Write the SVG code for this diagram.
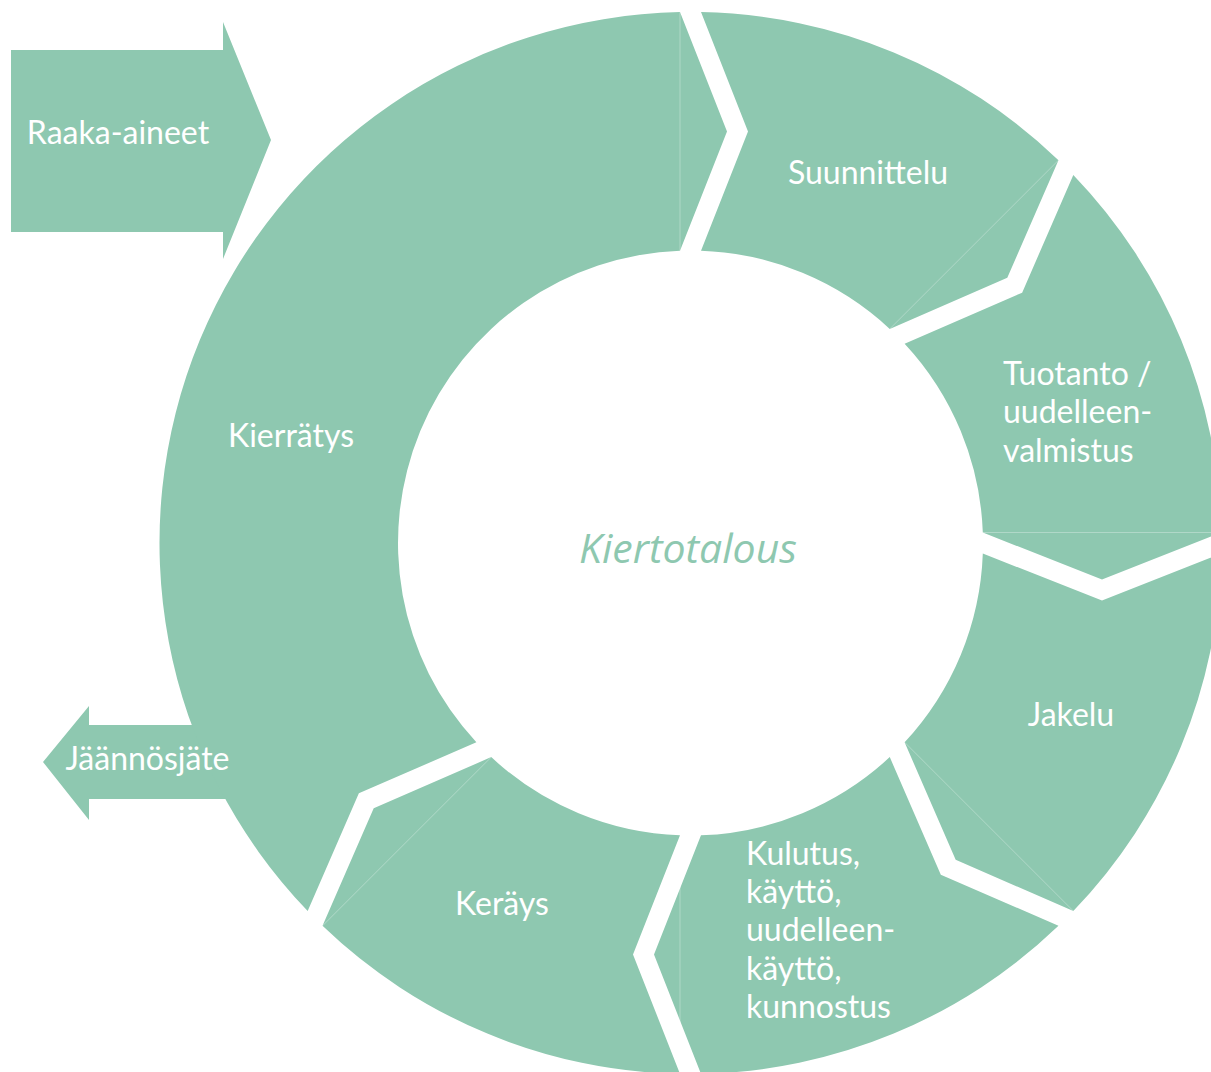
<svg xmlns="http://www.w3.org/2000/svg" width="1211" height="1072" viewBox="0 0 1211 1072">
  <style>
    .seg { fill: #8ec8b0; stroke: none; }
    .seam { stroke: #ffffff; stroke-opacity: 0.3; stroke-width: 1; fill: none; }
    .lbl { font-family: Lato, "Open Sans", "Liberation Sans", sans-serif; font-size: 32px; fill: #ffffff; }
    .mid { text-anchor: middle; }
    .center { font-family: "Open Sans", Lato, "Liberation Sans", sans-serif; font-size: 41px; font-style: italic; fill: #8ec8b0; text-anchor: middle; }
  </style>
  <rect x="0" y="0" width="1211" height="1072" fill="#ffffff"/>

  <g id="node-raaka-aineet">
    <polygon class="seg" points="11,50 223,50 223,22 271,140 223,259 223,232 11,232"/>
    <text class="lbl mid" x="118" y="144">Raaka-aineet</text>
  </g>

  <g id="node-jaannosjate">
    <polygon class="seg" points="43,762 89,706 89,725 250,725 250,799 89,799 89,820"/>
  </g>

  <g id="node-kierratys">
    <path class="seg" d="M 307.68,910.98 A 531 531 0 0 1 680,12.1 L 727,131.5 L 680,250.69 A 292.5 292.5 0 0 0 476.39,742.27 L 358.86,793.32 Z"/>
    <line class="seam" x1="680" y1="12.1" x2="680" y2="250.69"/>
    <text class="lbl mid" x="291" y="447">Kierrätys</text>
  </g>

  <g id="node-jaannosjate-label">
    <text class="lbl mid" x="147.5" y="770">Jäännösjäte</text>
  </g>

  <g id="node-suunnittelu">
    <path class="seg" d="M 701,12.1 A 531 531 0 0 1 1058.48,160.18 L 1007.29,277.83 L 889.77,328.89 A 292.5 292.5 0 0 0 701,250.69 L 748,131.5 Z"/>
    <line class="seam" x1="1058.48" y1="160.18" x2="889.77" y2="328.89"/>
    <text class="lbl mid" x="868" y="184">Suunnittelu</text>
  </g>

  <g id="node-tuotanto">
    <path class="seg" d="M 1073.32,175.02 A 531 531 0 0 1 1221.4,532.5 L 1102,579.5 L 982.81,532.5 A 292.5 292.5 0 0 0 904.61,343.73 L 1022.14,292.68 Z"/>
    <line class="seam" x1="1221.4" y1="532.5" x2="982.81" y2="532.5"/>
    <text class="lbl" x="1003" y="385">Tuotanto /</text>
    <text class="lbl" x="1003" y="423">uudelleen-</text>
    <text class="lbl" x="1003" y="462">valmistus</text>
  </g>

  <g id="node-jakelu">
    <path class="seg" d="M 1221.4,553.5 A 531 531 0 0 1 1073.32,910.98 L 955.67,859.79 L 904.61,742.27 A 292.5 292.5 0 0 0 982.81,553.5 L 1102,600.5 Z"/>
    <line class="seam" x1="1073.32" y1="910.98" x2="904.61" y2="742.27"/>
    <text class="lbl mid" x="1071" y="726">Jakelu</text>
  </g>

  <g id="node-kulutus">
    <path class="seg" d="M 1058.48,925.82 A 531 531 0 0 1 701,1073.9 L 654,954.5 L 701,835.31 A 292.5 292.5 0 0 0 889.77,757.11 L 940.82,874.64 Z"/>
    <line class="seam" x1="680" y1="835.31" x2="680" y2="1073.9"/>
    <text class="lbl" x="746" y="865">Kulutus,</text>
    <text class="lbl" x="746" y="903">käyttö,</text>
    <text class="lbl" x="746" y="941">uudelleen-</text>
    <text class="lbl" x="746" y="980">käyttö,</text>
    <text class="lbl" x="746" y="1018">kunnostus</text>
  </g>

  <g id="node-kerays">
    <path class="seg" d="M 680,1073.9 A 531 531 0 0 1 322.52,925.82 L 373.71,808.17 L 491.23,757.11 A 292.5 292.5 0 0 0 680,835.31 L 633,954.5 Z"/>
    <line class="seam" x1="322.52" y1="925.82" x2="491.23" y2="757.11"/>
    <text class="lbl mid" x="502" y="915">Keräys</text>
  </g>

  <g id="node-kiertotalous">
    <text class="center" x="688" y="563">Kiertotalous</text>
  </g>

  <g id="connectors"></g>
</svg>
